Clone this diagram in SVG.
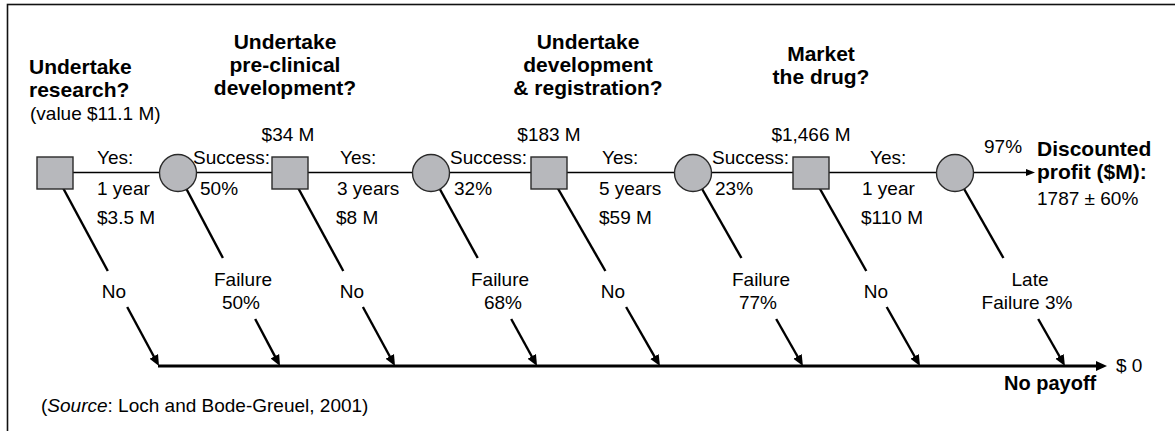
<svg xmlns="http://www.w3.org/2000/svg" width="1175" height="431" viewBox="0 0 1175 431">
  <style>
    text { font-family: "Liberation Sans", Arial, sans-serif; fill: #000; }
    .t { font-size: 19px; }
    .b { font-size: 21px; font-weight: bold; }
    .nb { font-size: 20px; font-weight: bold; }
    .m { text-anchor: middle; }
    .dec { fill: #b7b8bc; stroke: #2a2a2a; stroke-width: 1.4; }
    .chance { fill: #b7b8bc; stroke: #2a2a2a; stroke-width: 1.4; }
    .main { stroke: #000; stroke-width: 1.4; fill: none; }
    .diag { stroke: #000; stroke-width: 2.4; fill: none; }
    .floor { stroke: #000; stroke-width: 3; fill: none; }
  </style>
  <defs>
    <marker id="headDiag" markerUnits="userSpaceOnUse" markerWidth="14" markerHeight="12" refX="3" refY="0" viewBox="0 -6 14 12" orient="auto">
      <path d="M0,-4.8 L11,0 L0,4.8 z" fill="#000"/>
    </marker>
    <marker id="headFloor" markerUnits="userSpaceOnUse" markerWidth="14" markerHeight="12" refX="3" refY="0" viewBox="0 -6 14 12" orient="auto">
      <path d="M0,-5 L11,0 L0,5 z" fill="#000"/>
    </marker>
    <marker id="headMain" markerUnits="userSpaceOnUse" markerWidth="12" markerHeight="10" refX="3" refY="0" viewBox="0 -5 12 10" orient="auto">
      <path d="M0,-3.6 L9,0 L0,3.6 z" fill="#000"/>
    </marker>
  </defs>

  <rect width="1175" height="431" fill="#fff"/>
  <!-- frame (top and left edges visible) -->
  <rect x="7.5" y="4.5" width="1200" height="500" fill="none" stroke="#111" stroke-width="1.6"/>

  <!-- connectors -->
  <g id="connectors">
    <!-- main path through the stages -->
    <line class="main" x1="55" y1="172.5" x2="955" y2="172.5"/>
    <line class="main" x1="955" y1="172.5" x2="1029" y2="172.5" marker-end="url(#headMain)"/>
    <!-- no-payoff collector -->
    <line class="floor" x1="158" y1="366" x2="1099" y2="366" marker-end="url(#headFloor)"/>

    <!-- stage 1 decision: No -->
    <line class="diag" x1="55" y1="173" x2="107.8" y2="271"/>
    <line class="diag" x1="127.2" y1="307" x2="155.2" y2="359" marker-end="url(#headDiag)"/>
    <!-- stage 1 chance: Failure 50% -->
    <line class="diag" x1="178" y1="173" x2="222.9" y2="258"/>
    <line class="diag" x1="255.2" y1="319" x2="276.3" y2="358.9" marker-end="url(#headDiag)"/>
    <!-- stage 2 decision: No -->
    <line class="diag" x1="290" y1="173" x2="343.3" y2="271"/>
    <line class="diag" x1="362.9" y1="307" x2="391.2" y2="359" marker-end="url(#headDiag)"/>
    <!-- stage 2 chance: Failure 68% -->
    <line class="diag" x1="431" y1="173" x2="477.7" y2="258"/>
    <line class="diag" x1="511.2" y1="319" x2="533.2" y2="359" marker-end="url(#headDiag)"/>
    <!-- stage 3 decision: No -->
    <line class="diag" x1="549" y1="173" x2="605.4" y2="271"/>
    <line class="diag" x1="626.1" y1="307" x2="656" y2="359.1" marker-end="url(#headDiag)"/>
    <!-- stage 3 chance: Failure 77% -->
    <line class="diag" x1="693" y1="173" x2="741.4" y2="258"/>
    <line class="diag" x1="776.2" y1="319" x2="799" y2="359" marker-end="url(#headDiag)"/>
    <!-- stage 4 decision: No -->
    <line class="diag" x1="811" y1="173" x2="866.3" y2="271"/>
    <line class="diag" x1="886.7" y1="307" x2="916.1" y2="359" marker-end="url(#headDiag)"/>
    <!-- stage 4 chance: Late failure 3% -->
    <line class="diag" x1="955" y1="173" x2="1003.4" y2="258"/>
    <line class="diag" x1="1038.2" y1="319" x2="1061" y2="359" marker-end="url(#headDiag)"/>
  </g>

  <!-- decision and chance nodes -->
  <g id="decision-research"><rect class="dec" x="37" y="157" width="36" height="32"/></g>
  <g id="chance-research"><circle class="chance" cx="178" cy="173" r="18.5"/></g>
  <g id="decision-preclinical"><rect class="dec" x="272" y="157" width="36" height="32"/></g>
  <g id="chance-preclinical"><circle class="chance" cx="431" cy="173" r="18.5"/></g>
  <g id="decision-development"><rect class="dec" x="531" y="157" width="36" height="32"/></g>
  <g id="chance-development"><circle class="chance" cx="693" cy="173" r="18.5"/></g>
  <g id="decision-market"><rect class="dec" x="793" y="157" width="36" height="32"/></g>
  <g id="chance-market"><circle class="chance" cx="955" cy="173" r="18.5"/></g>

  <!-- stage questions -->
  <g id="titles">
    <text class="b" x="29" y="74">Undertake</text>
    <text class="b" x="29" y="97">research?</text>
    <text class="t" x="30" y="120">(value $11.1 M)</text>

    <text class="b m" x="285" y="49">Undertake</text>
    <text class="b m" x="285" y="72">pre-clinical</text>
    <text class="b m" x="285" y="95">development?</text>

    <text class="b m" x="588" y="49">Undertake</text>
    <text class="b m" x="588" y="72">development</text>
    <text class="b m" x="588" y="95">&amp; registration?</text>

    <text class="b m" x="821" y="61">Market</text>
    <text class="b m" x="821" y="84">the drug?</text>
  </g>

  <!-- values at decision points -->
  <g id="values">
    <text class="t m" x="288" y="141">$34 M</text>
    <text class="t m" x="549" y="141">$183 M</text>
    <text class="t m" x="811" y="141">$1,466 M</text>
  </g>

  <!-- branch labels on the main path -->
  <g id="branch-labels">
    <text class="t" x="97" y="164">Yes:</text>
    <text class="t" x="97" y="195">1 year</text>
    <text class="t" x="97" y="224">$3.5 M</text>

    <text class="t" x="193" y="164">Success:</text>
    <text class="t" x="200" y="195">50%</text>

    <text class="t" x="340" y="164">Yes:</text>
    <text class="t" x="337" y="195">3 years</text>
    <text class="t" x="336" y="224">$8 M</text>

    <text class="t" x="450" y="164">Success:</text>
    <text class="t" x="454" y="195">32%</text>

    <text class="t" x="602" y="164">Yes:</text>
    <text class="t" x="599" y="195">5 years</text>
    <text class="t" x="599" y="224">$59 M</text>

    <text class="t" x="712" y="164">Success:</text>
    <text class="t" x="715" y="195">23%</text>

    <text class="t" x="870" y="164">Yes:</text>
    <text class="t" x="862" y="195">1 year</text>
    <text class="t" x="861" y="224">$110 M</text>

    <text class="t" x="984" y="153">97%</text>
  </g>

  <!-- outcome -->
  <g id="outcome-profit">
    <text class="b" x="1037" y="156">Discounted</text>
    <text class="b" x="1037" y="179">profit ($M):</text>
    <text class="t" x="1037" y="205">1787 ± 60%</text>
  </g>

  <!-- exit branch labels -->
  <g id="exit-labels">
    <text class="t m" x="114" y="298">No</text>
    <text class="t m" x="243" y="286">Failure</text>
    <text class="t m" x="241" y="309">50%</text>
    <text class="t m" x="352" y="298">No</text>
    <text class="t m" x="500" y="286">Failure</text>
    <text class="t m" x="503" y="309">68%</text>
    <text class="t m" x="613" y="298">No</text>
    <text class="t m" x="761" y="286">Failure</text>
    <text class="t m" x="758" y="309">77%</text>
    <text class="t m" x="876" y="298">No</text>
    <text class="t m" x="1030" y="286">Late</text>
    <text class="t m" x="1027" y="309">Failure 3%</text>
  </g>

  <g id="outcome-nopayoff">
    <text class="t" x="1116" y="372">$ 0</text>
    <text class="nb" x="1004" y="390">No payoff</text>
  </g>

  <text class="t" x="41" y="412">(<tspan font-style="italic">Source</tspan>: Loch and Bode-Greuel, 2001)</text>
</svg>
